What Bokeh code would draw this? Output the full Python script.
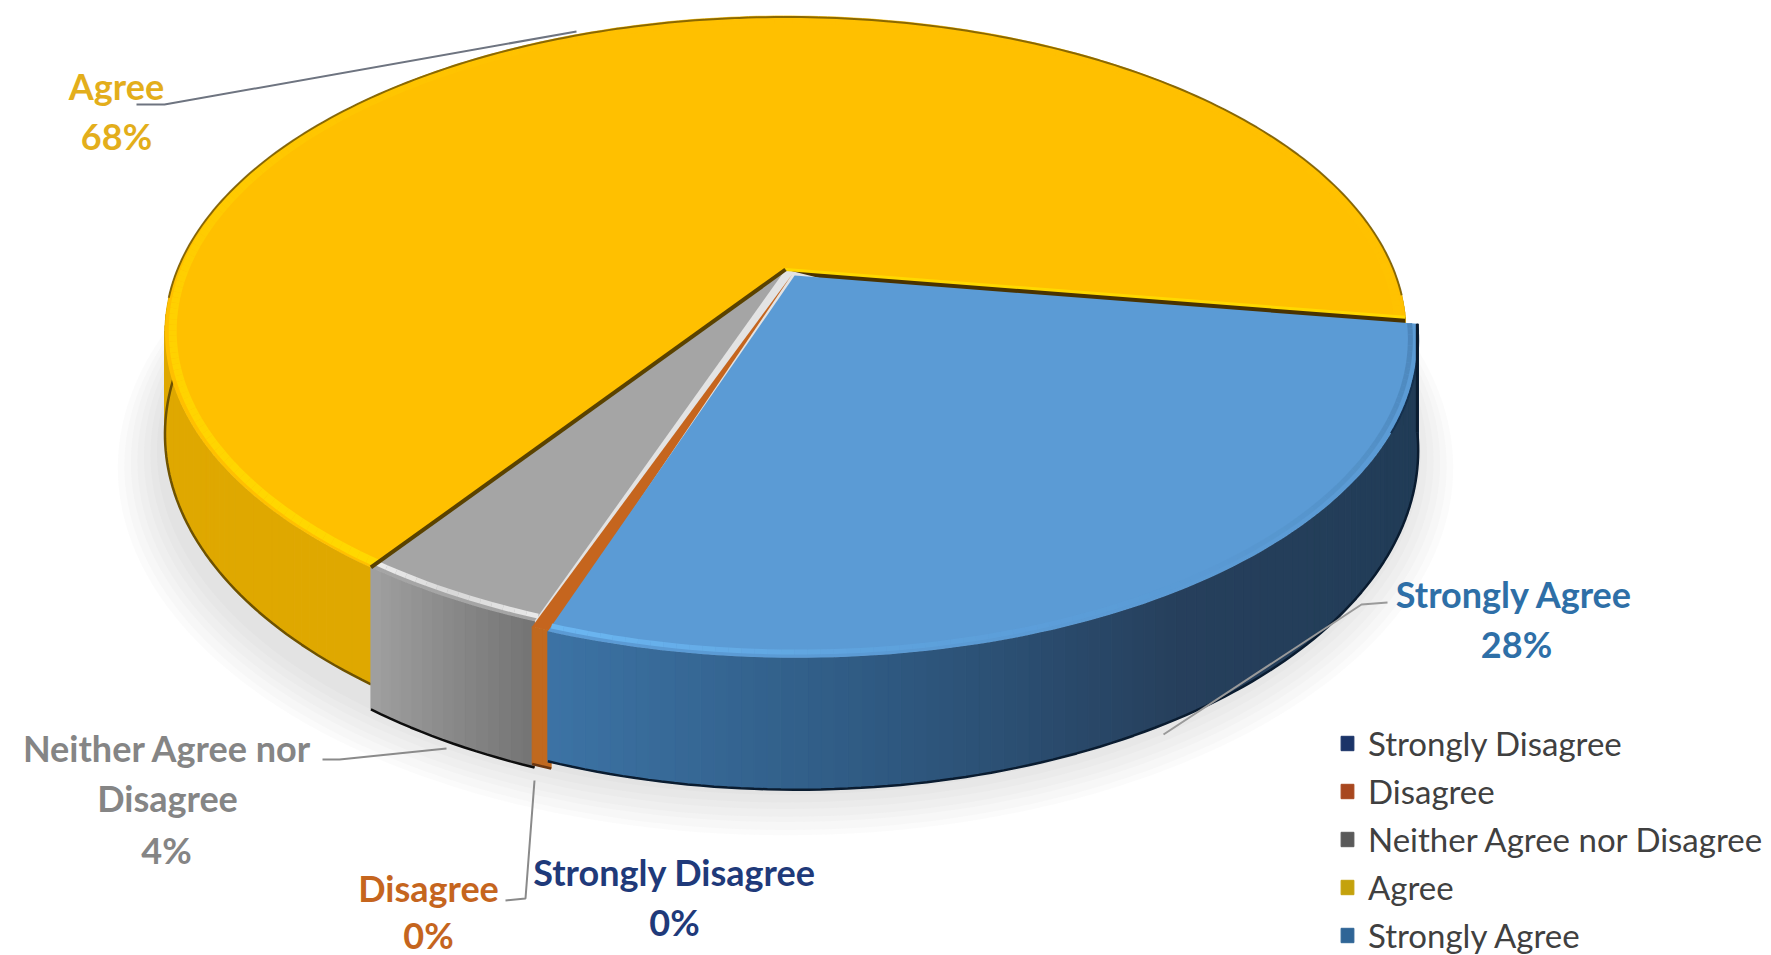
import numpy as np
from bokeh.plotting import figure
from bokeh.models import Legend, LegendItem, ColumnDataSource
from bokeh.core.properties import value
from bokeh.embed import file_html
from bokeh.resources import INLINE

categories = ["Strongly Disagree", "Disagree", "Neither Agree nor Disagree", "Agree", "Strongly Agree"]
values = [0.0, 0.3, 4.0, 68.0, 28.0]
percent_labels = ["0%", "0%", "4%", "68%", "28%"]

top_colors = ["#1F3864", "#C5651E", "#A5A5A5", "#FFC000", "#5B9BD5"]
legend_colors = ["#1B3468", "#A8471F", "#5A5A5A", "#C4A20C", "#2F6596"]
label_colors = ["#1F3A7A", "#C5651E", "#858585", "#E3AE1B", "#2E6FA7"]
side_stops = [
    ["#1F3864", "#1F3864"],
    ["#C0691F", "#C0691F"],
    ["#747474", "#8A8A8A", "#A0A0A0"],
    ["#DFA800", "#DFA800", "#E3AD00"],
    ["#1F3A55", "#223D58", "#263F5C", "#2F5A82", "#3C73A5"],
]
bevel_stops = [
    ["#1F3864", "#1F3864"],
    ["#C5651E", "#C5651E"],
    ["#F4F4F4", "#E0E0E0", "#F8F8F8"],
    ["#FFDC00", "#FFD500", "#FFC800", "#FFC000", "#FFC000", "#FFC000", "#FFC200"],
    ["#4A82B6", "#5390C6", "#5B9BD5", "#5FA3DE", "#6FBCF6"],
]
edge_colors = ["#000000", "#6A3610", "#0E0E0E", "#6E5200", "#0A1C30"]
bevel_widths = [0, 0, 5, 8, 5]
# slice offset from the pie centre, as a fraction of the radius
offsets = [(0.0, 0.0), (0.011, 0.016), (0.0, 0.0), (0.0, 0.0), (0.015, 0.02)]
depth_scale = [1.0, 1.06, 1.13, 0.93, 1.0]
underlap = [0.0, 0.5, 0.8, 0.0, 0.0]

CX, CY, A, B, K, D = 785.0, 269.0, 608.0, 303.0, 0.2, 105.0
ROTATION = 109.3


def project(theta, r, z, ex=0.0, ey=0.0):
    u = ex + r * np.cos(theta)
    v = ey + r * np.sin(theta)
    s = 1.0 / (1.0 - K * v)
    return CX + A * u * s, CY + B * v * s + D * z * s


def rgb(h):
    return np.array([int(h[i:i + 2], 16) for i in (1, 3, 5)], dtype=float)


def blend(stops, t):
    pos = t * (len(stops) - 1)
    i = min(int(pos), len(stops) - 2)
    f = pos - i
    c = rgb(stops[i]) * (1 - f) + rgb(stops[i + 1]) * f
    return "#%02x%02x%02x" % tuple(int(round(x)) for x in c)


p = figure(width=1771, height=955, x_range=(0, 1771), y_range=(955, 0),
           output_backend="svg", toolbar_location=None, min_border=0,
           outline_line_color=None, background_fill_color="white")
p.axis.visible = False
p.grid.visible = False

# soft drop shadow
for r_s, z_s in zip([1.07, 1.06, 1.05, 1.04, 1.03, 1.02, 1.01], [1.1, 1.1, 1.08, 1.08, 1.06, 1.05, 1.03]):
    th = np.radians(np.linspace(0, 360, 241))
    sx, sy = project(th, r_s, z_s, 0.0, 0.012)
    p.patch(sx, sy, fill_color="#808080", fill_alpha=0.035, line_color=None)

total = sum(values)
starts = ROTATION + np.concatenate([[0.0], np.cumsum(values)[:-1]]) / total * 360.0
spans = np.array(values) / total * 360.0
boundary = None

for idx in [3, 2, 1, 0, 4]:
    if spans[idx] <= 0:
        continue
    a0 = starts[idx] - underlap[idx]
    a1 = starts[idx] + spans[idx]
    ex, ey = offsets[idx]
    dz = depth_scale[idx]
    n = max(int((a1 - a0) / 1.0), 2)
    ths = np.radians(np.linspace(a0, a1, n + 1))

    # outer side wall
    xt, yt = project(ths, 1.0, 0.0, ex, ey)
    xb, yb = project(ths, 1.0, dz, ex, ey)
    xs, ys, cs = [], [], []
    for j in range(n):
        xs.append([xt[j], xt[j + 1], xb[j + 1], xb[j]])
        ys.append([yt[j], yt[j + 1], yb[j + 1], yb[j]])
        cs.append(blend(side_stops[idx], (j + 0.5) / n))
    p.patches(xs="x", ys="y", source=ColumnDataSource(dict(x=xs, y=ys, c=cs)),
              fill_color="c", line_color="c", line_width=1)
    # bottom edge
    p.line(xb, yb, line_color=edge_colors[idx], line_width=2.5)

    # top face
    ax, ay = project(np.array([0.0]), 0.0, 0.0, ex, ey)
    fx = np.concatenate([ax, xt])
    fy = np.concatenate([ay, yt])
    p.patch(fx, fy, fill_color=top_colors[idx], line_color=None)

    # bevel highlight near the rim
    if bevel_widths[idx] > 0:
        xi, yi = project(ths, 0.988, 0.0, ex, ey)
        mx, my, mc = [], [], []
        for j in range(n):
            mx.append([xi[j], xi[j + 1]])
            my.append([yi[j], yi[j + 1]])
            mc.append(blend(bevel_stops[idx], (j + 0.5) / n))
        p.multi_line(xs="x", ys="y", source=ColumnDataSource(dict(x=mx, y=my, c=mc)),
                     line_color="c", line_width=bevel_widths[idx], line_alpha=0.85)

    if idx == 3:
        # dark cut wall and bright edges of the largest slice
        t = np.radians(np.array([a1]))
        rx, ry = project(t, 1.0, 0.0)
        rbx, rby = project(t, 1.0, 1.0)
        p.patch([ax[0], rx[0], rbx[0]], [ay[0], ry[0], rby[0]],
                fill_color="#4A3300", line_color=None)
        p.line([ax[0], rx[0]], [ay[0], ry[0]], line_color="#FFD800", line_width=3)
        # dark outline of the back rim only
        back = np.sin(ths) < 0.1
        p.line(xt[back], yt[back], line_color="#6E5200", line_width=2, line_alpha=0.8)
        # dark edge shared with the grey slice, drawn once that slice is down
        t0 = np.radians(np.array([a0]))
        bx, by = project(t0, 1.0, 0.0)
        boundary = ([ax[0], bx[0]], [ay[0], by[0]])
    if idx == 2:
        p.line(boundary[0], boundary[1], line_color="#5A4200", line_width=4)
    if idx == 4:
        th_r = ths[: int(n * 0.2)]
        dx, dy = project(th_r, 1.0, 0.0, ex, ey)
        dbx, dby = project(th_r, 1.0, 1.0, ex, ey)
        p.line(dx, dy, line_color="#14304E", line_width=2)
        p.line([dx[0], dbx[0]], [dy[0], dby[0]], line_color="#0A1C30", line_width=3)

# leader lines
leaders = [
    ([136, 164, 576], [104, 104, 31], "#6E7480"),
    ([1387, 1361, 1163], [602, 604, 734], "#9A9A9A"),
    ([322, 339, 446], [759, 759, 748], "#8A8A8A"),
    ([505, 525, 534], [900, 898, 780], "#8A8A8A"),
]
for lx, ly, lc in leaders:
    p.line(lx, ly, line_color=lc, line_width=2)

# data labels
FONT = value("Lato")
label_rows = [
    (0, categories[0], 674, 871), (0, percent_labels[0], 674, 921),
    (1, categories[1], 428, 887), (1, percent_labels[1], 428, 934),
    (2, "Neither Agree nor", 167, 747), (2, "Disagree", 167, 797), (2, percent_labels[2], 166, 849),
    (3, categories[3], 116, 85), (3, percent_labels[3], 116, 135),
    (4, categories[4], 1514, 593), (4, percent_labels[4], 1516, 643),
]
for cat, txt, lx, ly in label_rows:
    p.text([lx], [ly], text=[txt], text_font=FONT, text_font_size="36px", text_font_style="bold",
           text_color=label_colors[cat], text_align="center", text_baseline="middle")

# legend
items = []
for name, col in zip(categories, legend_colors):
    r = p.patch([np.nan], [np.nan], fill_color=col, line_color=col)
    items.append(LegendItem(label=name, renderers=[r]))
legend = Legend(items=items, location=(1339, 0), orientation="vertical",
                label_text_font="Lato", label_text_font_size="33px", label_text_color="#404040",
                glyph_width=16, glyph_height=18, label_standoff=13, spacing=8, label_height=36,
                padding=0, margin=0, background_fill_alpha=0, border_line_color=None)
p.add_layout(legend)

open("out.html", "w").write(file_html(p, INLINE))
